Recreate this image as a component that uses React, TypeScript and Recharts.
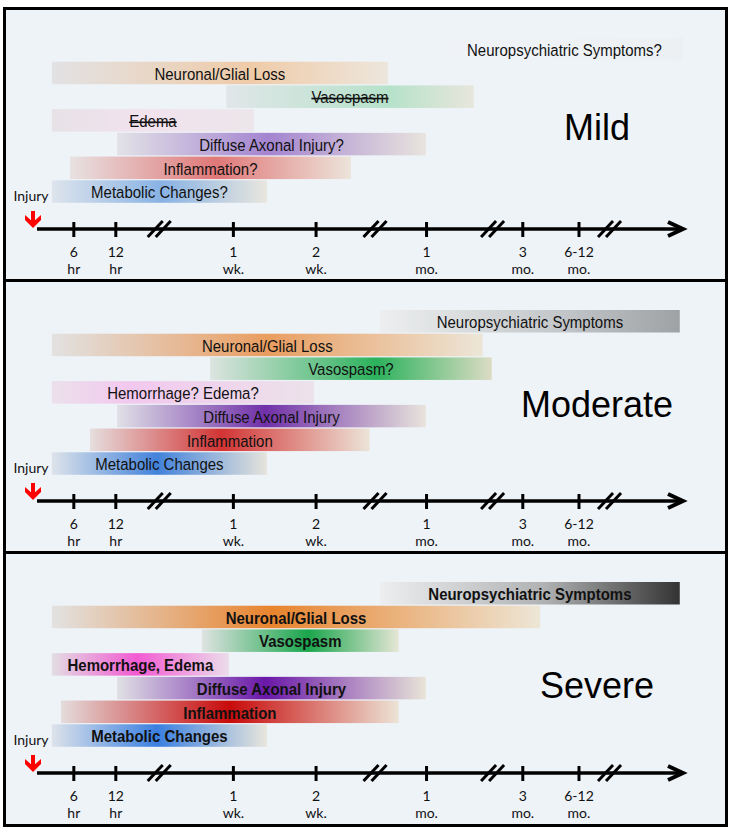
import React from 'react';
import { BarChart, Bar, XAxis, YAxis } from 'recharts';

// ---------- data ----------
// timeline units: 0 = injury (axis start), 100 = end of arrow
const TIME_TICKS = [5.7, 12.2, 30.4, 43.2, 60.3, 75.2, 83.9];
const TIME_NUM = ['6', '12', '1', '2', '1', '3', '6-12'];
const TIME_UNIT = ['hr', 'hr', 'wk.', 'wk.', 'mo.', 'mo.', 'mo.'];
const AXIS_BREAKS = [19.0, 52.4, 70.6, 88.7];
const AXIS_START = 0;
const AXIS_END = 100;

const MILD_NAMES = ['Neuropsychiatric Symptoms?', 'Neuronal/Glial Loss', 'Vasospasm', 'Edema', 'Diffuse Axonal Injury?', 'Inflammation?', 'Metabolic Changes?'];
const MILD_START = [63.3, 2.3, 29.3, 2.3, 12.4, 5.1, 2.3];
const MILD_END = [100, 54.3, 67.6, 33.6, 60.2, 48.6, 35.6];
const MILD_STRUCK = ['Vasospasm', 'Edema'];

const MODERATE_NAMES = ['Neuropsychiatric Symptoms', 'Neuronal/Glial Loss', 'Vasospasm?', 'Hemorrhage? Edema?', 'Diffuse Axonal Injury', 'Inflammation', 'Metabolic Changes'];
const MODERATE_START = [53.1, 2.3, 26.8, 2.3, 12.4, 8.2, 2.3];
const MODERATE_END = [99.5, 69.0, 70.4, 42.9, 60.2, 51.5, 35.6];

const SEVERE_NAMES = ['Neuropsychiatric Symptoms', 'Neuronal/Glial Loss', 'Vasospasm', 'Hemorrhage, Edema', 'Diffuse Axonal Injury', 'Inflammation', 'Metabolic Changes'];
const SEVERE_START = [53.1, 2.3, 25.5, 2.3, 12.4, 3.7, 2.3];
const SEVERE_END = [99.5, 77.9, 56.0, 29.7, 60.2, 56.0, 35.6];

// ---------- styles ----------
type Grad = [string, string, string, number];
const MILD_COLORS: Grad[] = [
  ['#eff3f7', '#eef2f5', '#ecf0f3', 0.6],
  ['#e2e2e4', '#efcba8', '#ede6dc', 0.59],
  ['#e0e6e8', '#b6e2ca', '#e8e6dc', 0.66],
  ['#e6e2e6', '#f2e2ee', '#ece6ea', 0.44],
  ['#e2e2e6', '#a484d0', '#e8e4de', 0.49],
  ['#e8e2e2', '#e07878', '#ece4da', 0.52],
  ['#dde4ec', '#88b2e4', '#e8e6de', 0.51],
];
const MODERATE_COLORS: Grad[] = [
  ['#eceeef', '#c4c7c9', '#9ea2a5', 0.6],
  ['#e2e2e2', '#e99d60', '#ece6d8', 0.5],
  ['#dde4e0', '#2cb25c', '#dcdcc4', 0.59],
  ['#ece0ec', '#f2c8ee', '#ece2ea', 0.3],
  ['#e0e0e6', '#7030a8', '#e8e4dc', 0.48],
  ['#e6dede', '#d23434', '#ece4d8', 0.47],
  ['#dde3ea', '#4282da', '#e6e4dc', 0.49],
];
const SEVERE_COLORS: Grad[] = [
  ['#eceeef', '#b0b1b2', '#333333', 0.55],
  ['#e2e2e2', '#e8842e', '#ede6d6', 0.45],
  ['#dfe3e1', '#1aa64c', '#e6e6d6', 0.54],
  ['#e2dde2', '#f25ad2', '#ecdcea', 0.48],
  ['#e0e0e4', '#6a18a8', '#e8e4d8', 0.48],
  ['#e4dcdc', '#c80a0a', '#ece4d6', 0.5],
  ['#dde3ea', '#3a7fe0', '#e8e6dc', 0.49],
];

const BG = '#eef3f8';
const BAR_FONT = '"Liberation Sans", Arial, sans-serif';
const AXIS_FONT = 'Lato, "Open Sans", sans-serif';

const buildRows = (names: string[], starts: number[], ends: number[]) =>
  names.map((name, i) => ({ name, span: [starts[i], ends[i]] }));

const AxisTick = (props: any) => {
  const { x, y, payload } = props;
  const v = payload.value;
  const X = x;
  const Y = y;
  if (v === AXIS_START) {
    return (
      <g>
        <text x={X - 6} y={Y - 28} textAnchor="middle" fontFamily={AXIS_FONT} fontSize={14} fill="#111">Injury</text>
        <line x1={X - 4} y1={Y - 18} x2={X - 4} y2={Y - 6} stroke="#ff0000" strokeWidth={4} />
        <path d={`M${X - 12},${Y - 14} L${X - 4},${Y - 7} L${X + 4},${Y - 14} L${X + 4},${Y - 9} L${X - 4},${Y - 1} L${X - 12},${Y - 9} Z`} fill="#ff0000" />
      </g>
    );
  }
  if (v === AXIS_END) {
    return (
      <polyline points={`${X - 15},${Y - 7} ${X},${Y} ${X - 15},${Y + 7}`} fill="none" stroke="#000" strokeWidth={4} />
    );
  }
  if (AXIS_BREAKS.indexOf(v) >= 0) {
    return (
      <g>
        <line x1={X - 12} y1={Y + 8} x2={X + 3} y2={Y - 8} stroke="#000" strokeWidth={3} />
        <line x1={X - 4} y1={Y + 8} x2={X + 11} y2={Y - 8} stroke="#000" strokeWidth={3} />
      </g>
    );
  }
  const ti = TIME_TICKS.indexOf(v);
  if (ti < 0) return null;
  return (
    <g>
      <line x1={X} y1={Y - 7} x2={X} y2={Y + 8} stroke="#000" strokeWidth={3} />
      <text x={X} y={Y + 28} textAnchor="middle" fontFamily={AXIS_FONT} fontSize={14} fill="#111">{TIME_NUM[ti]}</text>
      <text x={X} y={Y + 45} textAnchor="middle" fontFamily={AXIS_FONT} fontSize={14} fill="#111">{TIME_UNIT[ti]}</text>
    </g>
  );
};

const ALL_TICKS = [AXIS_START, ...TIME_TICKS, ...AXIS_BREAKS, AXIS_END].sort((a, b) => a - b);

type PanelProps = {
  id: string;
  title: string;
  titleBaseline: number;
  names: string[];
  starts: number[];
  ends: number[];
  colors: Grad[];
  bold: boolean;
  struck: string[];
  height: number;
};

const Panel = ({ id, title, titleBaseline, names, starts, ends, colors, bold, struck, height }: PanelProps) => {
  const rows = buildRows(names, starts, ends);
  const shape = (p: any) => {
    const { x, y, width, height: h, index } = p;
    const name = rows[index].name;
    return (
      <g>
        <rect x={x} y={y} width={width} height={h} fill={`url(#${id}-${index})`} />
        <g transform={`translate(${x + width / 2},${y + h / 2 + 1}) scale(1,1.1)`}>
          <text
            x={0}
            y={0}
            textAnchor="middle"
            dominantBaseline="central"
            fontFamily={BAR_FONT}
            fontSize={15}
            fontWeight={bold ? 'bold' : 'normal'}
            fill="#111"
            style={{ textDecoration: struck.indexOf(name) >= 0 ? 'line-through' : 'none' }}
          >
            {name}
          </text>
        </g>
      </g>
    );
  };
  return (
    <div style={{ position: 'relative', width: 719, height }}>
      <svg width={0} height={0} style={{ position: 'absolute' }}>
        <defs>
          {colors.map((c, i) => (
            <linearGradient key={i} id={`${id}-${i}`} x1="0" y1="0" x2="1" y2="0">
              <stop offset="0" stopColor={c[0]} />
              <stop offset={c[3]} stopColor={c[1]} />
              <stop offset="1" stopColor={c[2]} />
            </linearGradient>
          ))}
        </defs>
      </svg>
      <BarChart
        width={719}
        height={height}
        data={rows}
        layout="vertical"
        margin={{ top: 27, right: 42, bottom: height - 269, left: 31 }}
        barCategoryGap={0}
      >
        <XAxis
          type="number"
          domain={[AXIS_START, AXIS_END]}
          ticks={ALL_TICKS}
          interval={0}
          height={50}
          tickSize={0}
          tickMargin={0}
          tickLine={false}
          axisLine={{ stroke: '#000', strokeWidth: 3.5 }}
          tick={<AxisTick />}
          allowDataOverflow
        />
        <YAxis type="category" dataKey="name" hide padding={{ top: 0, bottom: 26 }} />
        <Bar dataKey="span" barSize={22.5} isAnimationActive={false} shape={shape} />
      </BarChart>
      <svg width={719} height={height} style={{ position: 'absolute', left: 0, top: 0, pointerEvents: 'none' }}>
        <g transform={`translate(591,${titleBaseline}) scale(1,1.04)`}>
          <text x={0} y={0} textAnchor="middle" fontFamily={BAR_FONT} fontSize={36} fill="#000">{title}</text>
        </g>
      </svg>
    </div>
  );
};

export default function App() {
  return (
    <div style={{ position: 'absolute', left: 0, top: 0, width: 733, height: 833, background: '#fff' }}>
      <div style={{ position: 'absolute', left: 3, top: 7, width: 719, border: '3px solid #000', background: BG }}>
        <Panel id="mild" title="Mild" titleBaseline={130} names={MILD_NAMES} starts={MILD_START} ends={MILD_END} colors={MILD_COLORS} bold={false} struck={MILD_STRUCK} height={269} />
        <div style={{ borderTop: '3px solid #000' }}>
          <Panel id="mod" title="Moderate" titleBaseline={135} names={MODERATE_NAMES} starts={MODERATE_START} ends={MODERATE_END} colors={MODERATE_COLORS} bold={false} struck={[]} height={269} />
        </div>
        <div style={{ borderTop: '3px solid #000' }}>
          <Panel id="sev" title="Severe" titleBaseline={144} names={SEVERE_NAMES} starts={SEVERE_START} ends={SEVERE_END} colors={SEVERE_COLORS} bold={true} struck={[]} height={270} />
        </div>
      </div>
    </div>
  );
}
